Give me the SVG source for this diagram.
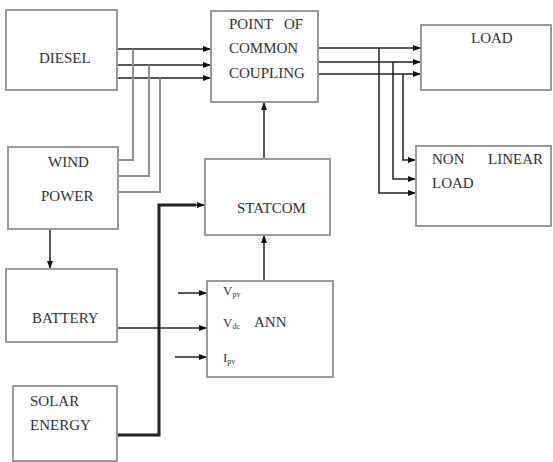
<svg xmlns="http://www.w3.org/2000/svg" width="553" height="462" viewBox="0 0 553 462">
<style>
.box{fill:#fff;stroke:#9a9a9a;stroke-width:2}
.t{font-family:'Liberation Serif','Times New Roman',serif;font-size:15px;fill:#333}
.s{font-family:'Liberation Serif','Times New Roman',serif;font-size:13px;fill:#333}
.sub{font-size:8px}
.ln{fill:none;stroke:#222;stroke-width:1.5}
.gl{fill:none;stroke:#8f8f8f;stroke-width:2}
.th{fill:none;stroke:#222;stroke-width:3}
</style>
<defs>
<marker id="ah" markerWidth="8" markerHeight="6" refX="8" refY="3" orient="auto" markerUnits="userSpaceOnUse">
<path d="M0,0 L8,3 L0,6 Z" fill="#111"/>
</marker>
</defs>
<rect width="553" height="462" fill="#fff"/>
<g id="connectors">
<line class="ln" x1="117" y1="49" x2="211" y2="49" marker-end="url(#ah)"/>
<line class="ln" x1="117" y1="65" x2="211" y2="65" marker-end="url(#ah)"/>
<line class="ln" x1="117" y1="78" x2="211" y2="78" marker-end="url(#ah)"/>
<polyline class="gl" points="133,49 133,160 118,160"/>
<polyline class="gl" points="149,65 149,176 118,176"/>
<polyline class="gl" points="160,78 160,192 118,192"/>
<line class="ln" x1="318" y1="48" x2="421" y2="48" marker-end="url(#ah)"/>
<line class="ln" x1="318" y1="62" x2="421" y2="62" marker-end="url(#ah)"/>
<line class="ln" x1="318" y1="74" x2="421" y2="74" marker-end="url(#ah)"/>
<polyline class="ln" points="379,48 379,193 416,193" marker-end="url(#ah)"/>
<polyline class="ln" points="393,62 393,179 416,179" marker-end="url(#ah)"/>
<polyline class="ln" points="403,74 403,160 416,160" marker-end="url(#ah)"/>
<line class="ln" x1="264" y1="159" x2="264" y2="102" marker-end="url(#ah)"/>
<line class="ln" x1="264" y1="281" x2="264" y2="235" marker-end="url(#ah)"/>
<line class="ln" x1="50" y1="229" x2="50" y2="269" marker-end="url(#ah)"/>
<polyline class="th" points="117,435 159,435 159,205 196,205"/>
<line class="ln" x1="195" y1="205" x2="205" y2="205" marker-end="url(#ah)"/>
<line class="ln" x1="117" y1="328" x2="207" y2="328" marker-end="url(#ah)"/>
<line class="ln" x1="178" y1="293" x2="207" y2="293" marker-end="url(#ah)"/>
<line class="ln" x1="175" y1="357" x2="207" y2="357" marker-end="url(#ah)"/>
</g>
<g id="diesel">
<rect class="box" x="6" y="10" width="111" height="80"/>
<text class="t" x="39" y="63">DIESEL</text>
</g>
<g id="wind">
<rect class="box" x="8" y="147" width="110" height="82"/>
<text class="t" x="48" y="167">WIND</text>
<text class="t" x="41" y="201">POWER</text>
</g>
<g id="battery">
<rect class="box" x="6" y="269" width="111" height="73"/>
<text class="t" x="32" y="323">BATTERY</text>
</g>
<g id="solar">
<rect class="box" x="13" y="386" width="104" height="75"/>
<text class="t" x="30" y="406">SOLAR</text>
<text class="t" x="30" y="430">ENERGY</text>
</g>
<g id="pcc">
<rect class="box" x="211" y="11" width="107" height="91"/>
<text class="t" x="229" y="29">POINT</text>
<text class="t" x="284" y="29">OF</text>
<text class="t" x="229" y="53">COMMON</text>
<text class="t" x="229" y="78">COUPLING</text>
</g>
<g id="statcom">
<rect class="box" x="205" y="159" width="125" height="76"/>
<text class="t" x="237" y="213">STATCOM</text>
</g>
<g id="ann">
<rect class="box" x="207" y="281" width="126" height="96"/>
<text class="s" x="223" y="295">V<tspan class="sub" dy="2">pv</tspan></text>
<text class="s" x="223" y="327">V<tspan class="sub" dy="2">dc</tspan></text>
<text class="t" x="254" y="327">ANN</text>
<text class="s" x="223" y="362">I<tspan class="sub" dy="2">pv</tspan></text>
</g>
<g id="load">
<rect class="box" x="421" y="25" width="130" height="65"/>
<text class="t" x="471" y="43">LOAD</text>
</g>
<g id="nonlinear">
<rect class="box" x="416" y="146" width="135" height="80"/>
<text class="t" x="432" y="164">NON</text>
<text class="t" x="488" y="164">LINEAR</text>
<text class="t" x="432" y="188">LOAD</text>
</g>
</svg>
